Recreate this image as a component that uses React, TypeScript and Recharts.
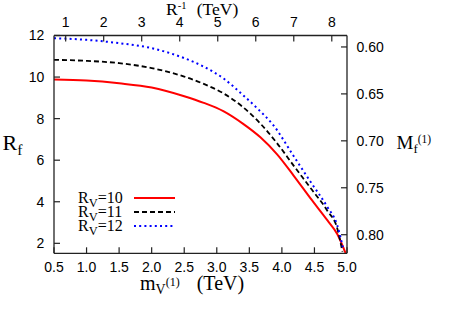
import React from 'react';
import { LineChart, Line, XAxis, YAxis, Legend, Label } from 'recharts';

// Tick values
const mvTicks = [0.5, 1.0, 1.5, 2.0, 2.5, 3.0, 3.5, 4.0, 4.5, 5.0];
const rInvTicks = [1, 2, 3, 4, 5, 6, 7, 8];
const rfTicks = [2, 4, 6, 8, 10, 12];
const mfTicks = [0.6, 0.65, 0.7, 0.75, 0.8];

// Series: R_V = 10
const rv10X = [0.5, 1.0, 1.5, 2.0, 2.5, 2.8, 3.1, 3.4, 3.67, 3.93, 4.18, 4.44, 4.7, 4.85, 4.98];
const rv10Y = [9.88, 9.83, 9.7, 9.5, 9.08, 8.76, 8.36, 7.76, 7.1, 6.27, 5.26, 4.16, 3.1, 2.45, 1.52];
// Series: R_V = 11
const rv11X = [0.5, 1.0, 1.5, 2.0, 2.5, 2.8, 3.1, 3.4, 3.67, 3.93, 4.18, 4.44, 4.7, 4.85, 4.93];
const rv11Y = [10.83, 10.78, 10.67, 10.43, 10.02, 9.67, 9.22, 8.56, 7.76, 6.8, 5.74, 4.66, 3.56, 2.72, 1.6];
// Series: R_V = 12
const rv12X = [0.5, 1.0, 1.5, 2.0, 2.5, 2.8, 3.1, 3.4, 3.62, 3.87, 4.18, 4.44, 4.7, 4.85, 4.94];
const rv12Y = [11.87, 11.79, 11.63, 11.39, 10.91, 10.5, 9.94, 9.14, 8.5, 7.68, 6.2, 4.96, 3.74, 2.87, 1.75];

const seriesNames = ['10', '11', '12'];
const seriesColors = ['#ff0000', '#000000', '#0000ff'];
const seriesDash = [undefined, '5 3', '2 3.2'];

const toPoints = (xs: number[], ys: number[]) => xs.map((x, i) => ({ x, y: ys[i] }));
const seriesData = [toPoints(rv10X, rv10Y), toPoints(rv11X, rv11Y), toPoints(rv12X, rv12Y)];
const topAxisData = rInvTicks.map((r) => ({ x: r }));

const SERIF = '"Liberation Serif", "Times New Roman", serif';
const SANS = '"Liberation Sans", Arial, sans-serif';
const AXIS = '#222';

const tickStyle = { fill: '#000', fontSize: 14, fontFamily: SANS };

const LegendBox = () => (
  <svg width={110} height={46} style={{ display: 'block', overflow: 'visible' }}>
    {seriesNames.map((n, i) => (
      <g key={n}>
        <text x={2} y={15 + i * 14} fontFamily={SERIF} fontSize={16} fill="#000">
          R<tspan dy={3.5} fontSize={12.5}>V</tspan>
          <tspan dy={-3.5}>={n}</tspan>
        </text>
        <line
          x1={58}
          x2={99}
          y1={10 + i * 14}
          y2={10 + i * 14}
          stroke={seriesColors[i]}
          strokeWidth={2}
          strokeDasharray={seriesDash[i]}
        />
      </g>
    ))}
  </svg>
);

export default function App() {
  return (
    <div style={{ position: 'absolute', left: 0, top: 0, width: 450, height: 315, background: '#fff' }}>
      <LineChart width={450} height={315} margin={{ top: 0, right: 0, bottom: 0, left: 0 }}>
        <XAxis
          xAxisId="b"
          type="number"
          dataKey="x"
          domain={[0.5, 5.0]}
          allowDataOverflow
          ticks={mvTicks}
          interval={0}
          tickFormatter={(v: number) => v.toFixed(1)}
          height={61.7}
          tickSize={-6}
          tickMargin={14.4}
          tick={tickStyle}
          axisLine={{ stroke: AXIS, strokeWidth: 1.3 }}
          tickLine={{ stroke: AXIS, strokeWidth: 1.2 }}
        >
          <Label
            content={() => (
              <text x={140} y={290} fontFamily={SERIF} fontSize={20} fill="#000">
                m<tspan dy={3.5} fontSize={14}>V</tspan>
                <tspan dy={-7.5} fontSize={12}>(1)</tspan>
                <tspan x={196.7} dy={4}>(TeV)</tspan>
              </text>
            )}
          />
        </XAxis>
        <XAxis
          xAxisId="t"
          orientation="top"
          type="number"
          dataKey="x"
          domain={[0.693, 8.4]}
          allowDataOverflow
          ticks={rInvTicks}
          interval={0}
          height={35.5}
          tickSize={-6}
          tickMargin={15}
          tick={tickStyle}
          axisLine={{ stroke: AXIS, strokeWidth: 1.3 }}
          tickLine={{ stroke: AXIS, strokeWidth: 1.2 }}
        >
          <Label
            content={() => (
              <text x={166} y={15} fontFamily={SERIF} fontSize={17.5} fill="#000">
                R<tspan dy={-6.5} fontSize={10.5}>-1</tspan>
                <tspan x={196.7} dy={6.5}>(TeV)</tspan>
              </text>
            )}
          />
        </XAxis>
        <YAxis
          yAxisId="l"
          type="number"
          domain={[1.52, 12]}
          allowDataOverflow
          ticks={rfTicks}
          interval={0}
          width={54}
          tickSize={-6}
          tickMargin={15.7}
          tick={tickStyle}
          axisLine={{ stroke: AXIS, strokeWidth: 1.3 }}
          tickLine={{ stroke: AXIS, strokeWidth: 1.2 }}
        >
          <Label
            content={() => (
              <text x={2.5} y={150} fontFamily={SERIF} fontSize={22} fill="#000">
                R<tspan dy={5} fontSize={15.5}>f</tspan>
              </text>
            )}
          />
        </YAxis>
        <YAxis
          yAxisId="r"
          orientation="right"
          type="number"
          domain={[0.5878, 0.8198]}
          reversed
          allowDataOverflow
          ticks={mfTicks}
          interval={0}
          tickFormatter={(v: number) => v.toFixed(2)}
          width={103}
          tickSize={-6}
          tickMargin={15.5}
          tick={tickStyle}
          axisLine={{ stroke: AXIS, strokeWidth: 1.3 }}
          tickLine={{ stroke: AXIS, strokeWidth: 1.2 }}
        >
          <Label
            content={() => (
              <text x={396.5} y={148.5} fontFamily={SERIF} fontSize={19} fill="#000">
                M<tspan dy={4} fontSize={13}>f</tspan>
                <tspan dy={-10} fontSize={11.5}>(1)</tspan>
              </text>
            )}
          />
        </YAxis>
        <Line
          xAxisId="t"
          yAxisId="l"
          data={topAxisData}
          dataKey="y"
          stroke="none"
          dot={false}
          activeDot={false}
          legendType="none"
          isAnimationActive={false}
        />
        {seriesData.map((d, i) => (
          <Line
            key={seriesNames[i]}
            xAxisId="b"
            yAxisId="l"
            data={d}
            dataKey="y"
            name={`R_V=${seriesNames[i]}`}
            type="monotone"
            stroke={seriesColors[i]}
            strokeWidth={i === 1 ? 1.8 : 2}
            strokeDasharray={seriesDash[i]}
            dot={false}
            activeDot={false}
            isAnimationActive={false}
          />
        ))}
        <Legend
          layout="vertical"
          align="center"
          verticalAlign="middle"
          content={() => <LegendBox />}
          wrapperStyle={{ left: 76, top: 188, width: 110, height: 46 }}
        />
      </LineChart>
    </div>
  );
}
